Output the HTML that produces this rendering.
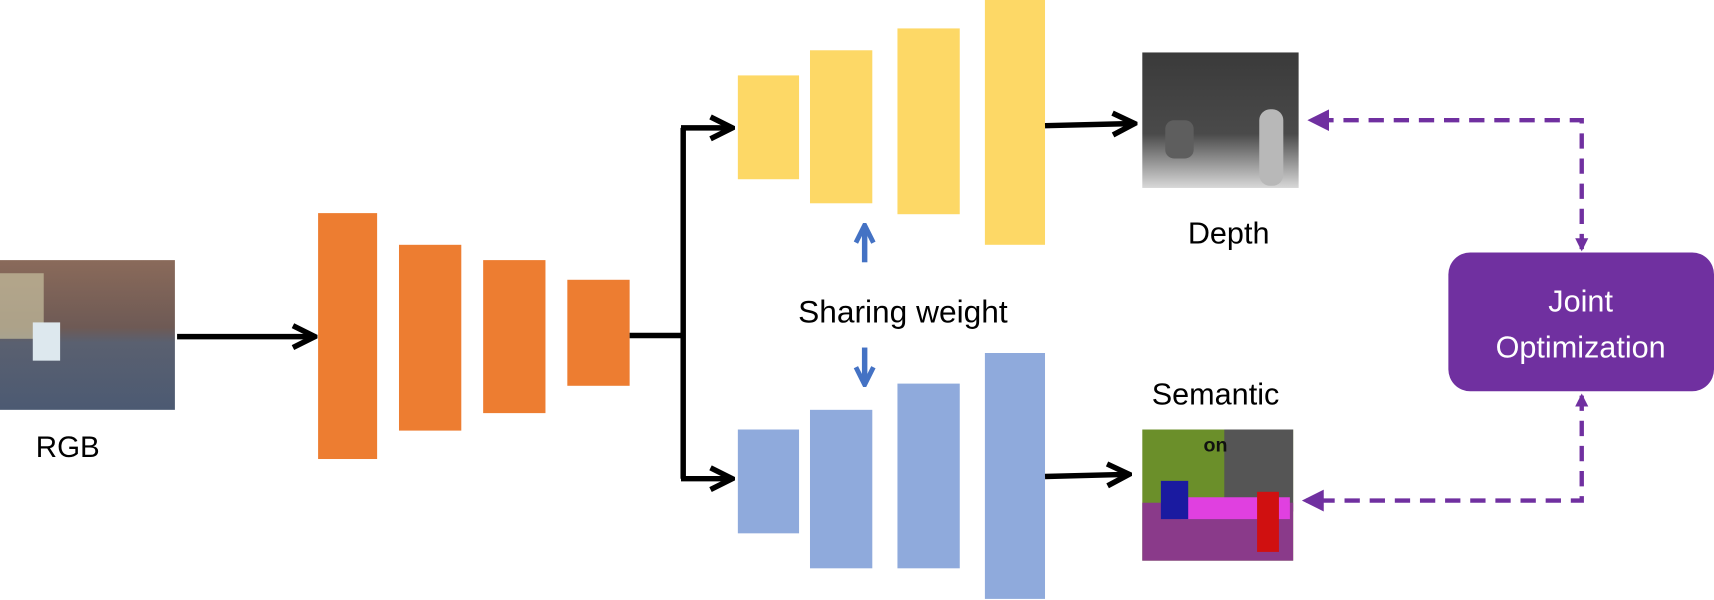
<!DOCTYPE html>
<html><head><meta charset="utf-8"><style>
html,body{margin:0;padding:0;background:#fff;}
svg{display:block;}
text{font-family:"Liberation Sans","DejaVu Sans",sans-serif;}
</style></head><body>
<svg width="1714" height="600" viewBox="0 0 1568 549" preserveAspectRatio="none" xmlns="http://www.w3.org/2000/svg">
<defs>
<marker id="ah" viewBox="0 0 10 10" refX="9" refY="5" markerWidth="5" markerHeight="5" orient="auto"><path d="M1,1 L9,5 L1,9" fill="none" stroke="#000" stroke-width="2"/></marker>
<marker id="bh" viewBox="0 0 10 10" refX="8" refY="5" markerWidth="4" markerHeight="4" orient="auto"><path d="M1,1 L9,5 L1,9" fill="none" stroke="#4472C4" stroke-width="2.2"/></marker>
<marker id="ph" viewBox="0 0 10 10" refX="8" refY="5" markerWidth="5" markerHeight="5" orient="auto"><path d="M0,0 L10,5 L0,10 z" fill="#7030A0"/></marker>
<linearGradient id="rgbg" x1="0" y1="0" x2="0" y2="1"><stop offset="0" stop-color="#8a6a5a"/><stop offset="0.45" stop-color="#6e5a55"/><stop offset="0.55" stop-color="#5a6070"/><stop offset="1" stop-color="#4c5a72"/></linearGradient>
<linearGradient id="depg" x1="0" y1="0" x2="0" y2="1"><stop offset="0" stop-color="#3a3a3a"/><stop offset="0.6" stop-color="#4a4a4a"/><stop offset="1" stop-color="#d8d8d8"/></linearGradient>
</defs>

<g>
<rect x="0" y="238" width="160" height="137" fill="url(#rgbg)"/>
<rect x="0" y="250" width="40" height="60" fill="#c8c0a0" opacity="0.7"/>
<rect x="30" y="295" width="25" height="35" fill="#dde8ee"/>
</g>
<text x="62" y="418" font-size="27" text-anchor="middle">RGB</text>
<line x1="162" y1="308" x2="288" y2="308" stroke="#000" stroke-width="5" marker-end="url(#ah)"/>

<g fill="#ED7D31">
<rect x="291" y="195" width="54" height="225"/>
<rect x="365" y="224" width="57" height="170"/>
<rect x="442" y="238" width="57" height="140"/>
<rect x="519" y="256" width="57" height="97"/>
</g>
<g stroke="#000" stroke-width="5" fill="none">
<polyline points="576,307 625,307"/>
<polyline points="625,117 625,438"/>
<line x1="623" y1="117" x2="670" y2="117" marker-end="url(#ah)"/>
<line x1="623" y1="438" x2="670" y2="438" marker-end="url(#ah)"/>
</g>

<g fill="#FDD866">
<rect x="675" y="69" width="56" height="95"/>
<rect x="741" y="46" width="57" height="140"/>
<rect x="821" y="26" width="57" height="170"/>
<rect x="901" y="0" width="55" height="224"/>
</g>
<g fill="#8FAADC">
<rect x="675" y="393" width="56" height="95"/>
<rect x="741" y="375" width="57" height="145"/>
<rect x="821" y="351" width="57" height="169"/>
<rect x="901" y="323" width="55" height="225"/>
</g>

<line x1="791" y1="240" x2="791" y2="208" stroke="#4472C4" stroke-width="5" marker-end="url(#bh)"/>
<line x1="791" y1="318" x2="791" y2="350" stroke="#4472C4" stroke-width="5" marker-end="url(#bh)"/>
<text x="826" y="295" font-size="29" text-anchor="middle">Sharing weight</text>

<line x1="956" y1="115" x2="1038" y2="113" stroke="#000" stroke-width="5" marker-end="url(#ah)"/>
<line x1="956" y1="436" x2="1033" y2="434" stroke="#000" stroke-width="5" marker-end="url(#ah)"/>

<g>
<rect x="1045" y="48" width="143" height="124" fill="url(#depg)"/>
<rect x="1066" y="110" width="26" height="35" rx="8" fill="#5e5e5e"/>
<rect x="1152" y="100" width="22" height="70" rx="10" fill="#b8b8b8"/>
</g>
<text x="1124" y="223" font-size="28" text-anchor="middle">Depth</text>

<text x="1112" y="370" font-size="28" text-anchor="middle">Semantic</text>
<g>
<rect x="1045" y="393" width="138" height="120" fill="#6b8f2a"/>
<rect x="1120" y="393" width="63" height="75" fill="#555"/>
<rect x="1045" y="460" width="138" height="53" fill="#8a3a8a"/>
<rect x="1080" y="455" width="100" height="20" fill="#e040e0"/>
<rect x="1062" y="440" width="25" height="35" fill="#1a1aa0"/>
<rect x="1150" y="450" width="20" height="55" fill="#d01010"/>
<text x="1112" y="413" font-size="18" font-weight="bold" font-family="Liberation Serif,serif" text-anchor="middle" fill="#111">on</text>
</g>

<rect x="1325" y="231" width="243" height="127" rx="20" fill="#7030A0"/>
<text x="1446" y="285" font-size="28" fill="#fff" text-anchor="middle">Joint</text>
<text x="1446" y="327" font-size="28" fill="#fff" text-anchor="middle">Optimization</text>

<g stroke="#7030A0" stroke-width="4" fill="none" stroke-dasharray="14,9">
<polyline points="1447,228 1447,110 1200,110" marker-end="url(#ph)"/>
<polyline points="1447,362 1447,458 1195,458" marker-end="url(#ph)"/>
</g>
<path d="M1441,218 L1447,230 L1453,218 z" fill="#7030A0"/>
<path d="M1441,372 L1447,360 L1453,372 z" fill="#7030A0"/>
</svg>
</body></html>
